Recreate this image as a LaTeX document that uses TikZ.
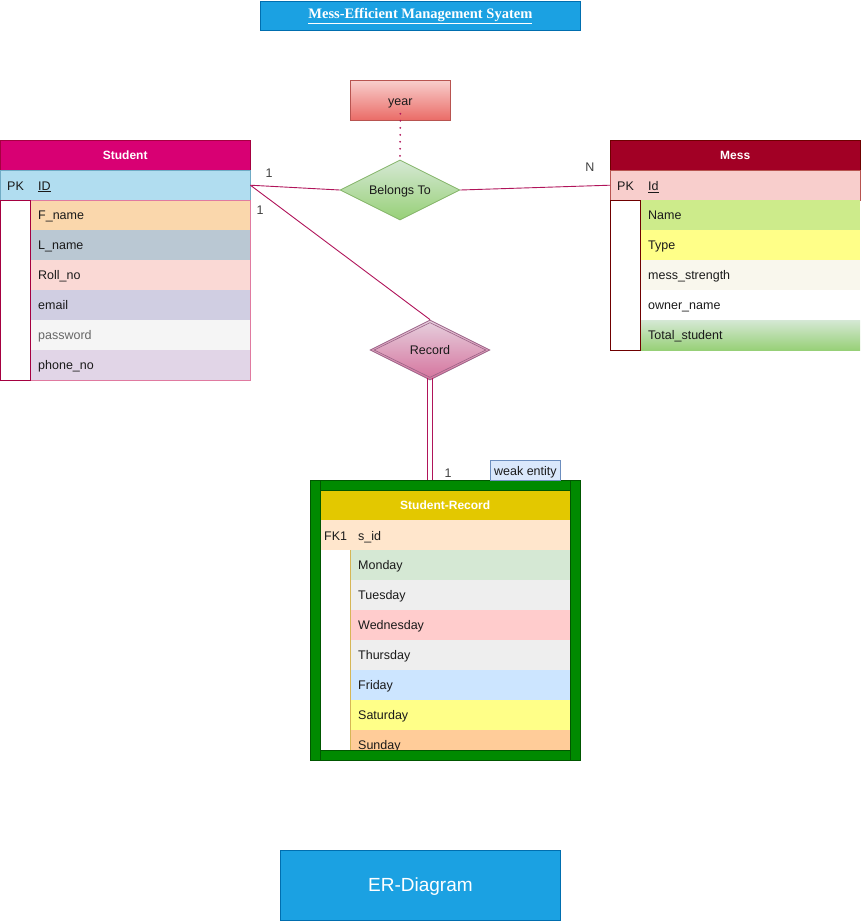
\documentclass[tikz,border=0pt]{standalone}
\usepackage{fontspec}
\setmainfont{Liberation Sans}
\newfontfamily\titlefont{Liberation Serif}
\usetikzlibrary{shapes.geometric}

% palette
\definecolor{blueA}{HTML}{1BA1E2}
\definecolor{blueB}{HTML}{006EAF}
\definecolor{stuHead}{HTML}{D80073}
\definecolor{stuLine}{HTML}{A50040}
\definecolor{stuEdge}{HTML}{E07AA0}
\definecolor{pkBlue}{HTML}{B1DDF0}
\definecolor{pkBlueLine}{HTML}{10739E}
\definecolor{cFname}{HTML}{FAD7AC}
\definecolor{cLname}{HTML}{BAC8D3}
\definecolor{cRoll}{HTML}{FAD9D5}
\definecolor{cEmail}{HTML}{D0CEE2}
\definecolor{cPass}{HTML}{F5F5F5}
\definecolor{cPhone}{HTML}{E1D5E7}
\definecolor{messHead}{HTML}{A20025}
\definecolor{messLine}{HTML}{6F0000}
\definecolor{pkRed}{HTML}{F8CECC}
\definecolor{pkRedLine}{HTML}{B85450}
\definecolor{cName}{HTML}{CDEB8B}
\definecolor{cYellow}{HTML}{FFFF88}
\definecolor{cStrength}{HTML}{F9F7ED}
\definecolor{greenTop}{HTML}{D5E8D4}
\definecolor{greenBot}{HTML}{97D077}
\definecolor{greenLine}{HTML}{82B366}
\definecolor{redTop}{HTML}{F8CECC}
\definecolor{redBot}{HTML}{EA6B66}
\definecolor{pinkTop}{HTML}{E6D0DE}
\definecolor{pinkBot}{HTML}{D5739D}
\definecolor{pinkLine}{HTML}{996185}
\definecolor{relLine}{HTML}{B0145A}
\definecolor{boxGreen}{HTML}{008A00}
\definecolor{boxGreenLine}{HTML}{005700}
\definecolor{recHead}{HTML}{E3C800}
\definecolor{recLine}{HTML}{D6B656}
\definecolor{cFk}{HTML}{FFE6CC}
\definecolor{cGreyRow}{HTML}{EEEEEE}
\definecolor{cRedRow}{HTML}{FFCCCC}
\definecolor{cBlueRow}{HTML}{CCE5FF}
\definecolor{cOrange}{HTML}{FFCC99}
\definecolor{noteFill}{HTML}{DAE8FC}
\definecolor{noteLine}{HTML}{6C8EBF}
\definecolor{inkText}{HTML}{1A1A1A}
\definecolor{softText}{HTML}{666666}

\tikzset{
  txt/.style={font=\fontsize{12.5}{14}\selectfont, text=inkText,
    text height=9.5pt, text depth=0pt},
  hdr/.style={rectangle, anchor=north west, minimum height=30pt, inner sep=0pt,
    font=\bfseries\fontsize{12}{14}\selectfont, text=white,
    text height=9pt, text depth=0pt},
  attr/.style={rectangle, anchor=north west, minimum width=220pt, minimum height=30pt,
    inner xsep=8pt, inner ysep=0pt, text width=204pt, align=left, txt},
  keyrow/.style={rectangle, anchor=north west, minimum height=30pt, inner sep=0pt},
  keytag/.style={anchor=west, inner sep=0pt, txt},
  rel/.style={draw=relLine, line width=0.9pt},
  cardlabel/.style={txt, text=black!75, inner sep=0pt},
  bluebox/.style={rectangle, anchor=north west, fill=blueA, draw=blueB, line width=0.8pt, text=white}
}

\begin{document}
\begin{tikzpicture}[x=1pt,y=-1pt]
\useasboundingbox (0,0) rectangle (861,922);

% title
\node[bluebox, minimum width=320pt, minimum height=29pt,
  font=\titlefont\bfseries\fontsize{14.5}{16}\selectfont] (title) at (260,1)
  {\underline{Mess-Efficient Management Syatem}};

% ---------------- Student entity ----------------
\node[hdr, minimum width=250pt, fill=stuHead, draw=stuLine] (stu) at (0,140) {Student};
\node[keyrow, minimum width=250pt, fill=pkBlue, draw=pkBlueLine!60] (spk) at (0,170) {};
\node[keytag] (spkTag) at (7,185.5) {PK};
\node[keytag] (spkName) at (38,185.5) {\underline{ID}};
\foreach \t/\c/\k [count=\i] in {F\_name/cFname/inkText, L\_name/cLname/inkText,
    Roll\_no/cRoll/inkText, email/cEmail/inkText, password/cPass/softText,
    phone\_no/cPhone/inkText}
  \node[attr, fill=\c, text=\k] (sa\i) at (30,{170+30*\i}) {\t};
\draw[stuEdge, line width=0.8pt] (sa1.north west) rectangle (sa6.south east);
\draw[stuLine, line width=0.8pt] (spk.south west) rectangle (sa6.south west);

% ---------------- Mess entity ----------------
\node[hdr, minimum width=250pt, fill=messHead, draw=messLine] (mess) at (610,140) {Mess};
\node[keyrow, minimum width=250pt, fill=pkRed, draw=pkRedLine] (mpk) at (610,170) {};
\node[keytag] (mpkTag) at (617,185.5) {PK};
\node[keytag] (mpkName) at (648,185.5) {\underline{Id}};
\foreach \t/\c [count=\i] in {Name/cName, Type/cYellow, mess\_strength/cStrength,
    owner\_name/white}
  \node[attr, fill=\c] (ma\i) at (640,{170+30*\i}) {\t};
\node[attr, top color=greenTop, bottom color=greenBot] (ma5) at (640,320) {Total\_student};
\draw[messLine, line width=0.8pt] (mpk.south west) rectangle (ma5.south west);

% ---------------- relationship: Belongs To ----------------
\node[rectangle, anchor=north west, minimum width=100pt, minimum height=40pt,
  top color=redTop, bottom color=redBot, draw=pkRedLine, line width=0.8pt, txt] (year) at (350,80) {year};
\node[diamond, minimum width=120pt, minimum height=60pt, inner sep=0pt, aspect=2,
  top color=greenTop, bottom color=greenBot, draw=greenLine, line width=0.8pt, txt] (belongs) at (400,190) {Belongs To};
\draw[relLine, line width=2pt, line cap=round, dash pattern=on 0pt off 7pt]
  ([yshift=7pt]year.south) -- (belongs.north);

\draw[rel] (spk.east) -- (belongs.west);
\draw[rel] (belongs.east) -- (mpk.west);
\node[cardlabel] (c1) at (269,173) {1};
\node[cardlabel] (cN) at (590,167) {N};

% ---------------- relationship: Record ----------------
\node[diamond, minimum width=120pt, minimum height=60pt, inner sep=0pt, aspect=2,
  top color=pinkTop, bottom color=pinkBot, draw=pinkLine, line width=0.8pt, txt] (record) at (430,350) {Record};
\node[diamond, minimum width=112pt, minimum height=55pt, inner sep=0pt, aspect=2,
  draw=pinkLine, line width=0.6pt] (recordInner) at (430,350) {};
\draw[rel] (spk.east) -- (record.north);
\node[cardlabel] (c2) at (260,210) {1};

% ---------------- weak entity: Student-Record ----------------
\node[rectangle, anchor=north west, minimum width=270pt, minimum height=280pt,
  fill=boxGreen, draw=boxGreenLine, line width=0.8pt] (srec) at (310,480) {};
\fill[white] (320,490) rectangle (570,750);
\node[hdr, minimum width=250pt, fill=recHead] (rhead) at (320,490) {Student-Record};
\node[keyrow, minimum width=250pt, fill=cFk] (rfk) at (320,520) {};
\node[keytag] (rfkTag) at (324,535.5) {FK1};
\node[keytag] (rfkName) at (358,535.5) {s\_id};
\foreach \t/\c [count=\i] in {Monday/greenTop, Tuesday/cGreyRow, Wednesday/cRedRow,
    Thursday/cGreyRow, Friday/cBlueRow, Saturday/cYellow, Sunday/cOrange}
  \node[attr, fill=\c] (ra\i) at (350,{520+30*\i}) {\t};
\draw[recLine, line width=0.8pt] (ra1.north west) -- (350,750);
% frame band along the bottom covers the last row
\fill[boxGreen] (310,750) rectangle (580,760);
\draw[boxGreenLine, line width=0.8pt] (srec.north west) rectangle (srec.south east);
\draw[boxGreenLine, line width=0.8pt] (320,480) -- (320,760) (570,480) -- (570,760)
  (320,490) -- (570,490) (320,750) -- (570,750);

% total participation: double line from Record down to the weak entity
\draw[rel] ([xshift=-2.5pt,yshift=2pt]record.south) -- ([xshift=-2.5pt]record.south |- srec.north);
\draw[rel] ([xshift=2.5pt,yshift=2pt]record.south) -- ([xshift=2.5pt]record.south |- srec.north);
\node[cardlabel] (c3) at (448,473) {1};
\node[rectangle, anchor=north west, minimum width=70pt, minimum height=20pt, inner sep=0pt,
  fill=noteFill, draw=noteLine, line width=0.8pt, txt] (weak) at (490,460) {weak entity};

% caption box
\node[bluebox, minimum width=280pt, minimum height=70pt,
  font=\fontsize{19}{22}\selectfont, text height=12pt, text depth=0pt] (caption) at (280,850) {ER-Diagram};
\end{tikzpicture}
\end{document}
